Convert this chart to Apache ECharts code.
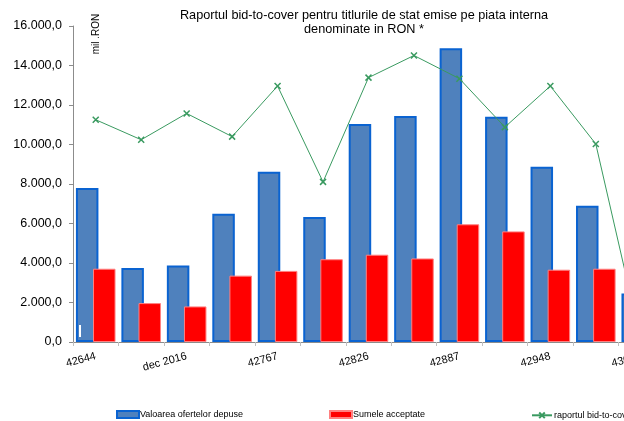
<!DOCTYPE html>
<html>
<head>
<meta charset="utf-8">
<script src="https://cdn.jsdelivr.net/npm/echarts@6/dist/echarts.min.js"></script>
<style>
  html, body { margin: 0; padding: 0; background: #fff; }
  #chart { width: 624px; height: 421px; }
</style>
</head>
<body>
<div id="chart"></div>
<script>
// luni (seriale Excel, asa cum apar pe axa)
var months = ['42644', '42675', 'dec 2016', '42736', '42767', '42795', '42826',
  '42856', '42887', '42917', '42948', '42979', '43009']
// mil. RON
var oferte = [7800, 3750, 3870, 6500, 8620, 6330, 11040, 11440, 14870, 11400, 8870, 6900, 2460]
var acceptate = [3710, 1970, 1800, 3360, 3600, 4190, 4420, 4230, 5960, 5600, 3660, 3710, null]
// raport bid-to-cover (axa secundara, ascunsa)
var bidToCover = [2.11, 1.92, 2.17, 1.95, 2.43, 1.52, 2.51, 2.72, 2.50, 2.04, 2.43, 1.88, 0]

var yTicksMax = 16000

function fmtRon(v) {
  return String(v).replace(/\B(?=(\d{3})+(?!\d))/g, '.') + ',0'
}

var myChart = echarts.init(document.getElementById('chart'))
var font = 'Arial, "Liberation Sans", sans-serif'

myChart.setOption({
  animation: false,
  textStyle: { fontFamily: font },
  title: {
    text: 'Raportul bid-to-cover pentru titlurile de stat emise pe piata interna\ndenominate in RON *',
    left: 359,
    top: 4,
    textAlign: 'center',
    textStyle: { fontSize: 12.7, fontWeight: 'normal', color: '#000', lineHeight: 13.5, fontFamily: font }
  },
  graphic: [
    {
      type: 'text',
      x: 96,
      y: 34,
      rotation: Math.PI / 2,
      style: { text: 'mil .RON', font: '10px Arial, "Liberation Sans", sans-serif', fill: '#000', textAlign: 'center', textVerticalAlign: 'middle' }
    },
    {
      type: 'rect',
      shape: { x: 79, y: 325, width: 2, height: 12 },
      style: { fill: '#fff' },
      z: 10
    }
  ],
  legend: [
    {
      data: ['Valoarea ofertelor depuse'],
      left: 111, top: 405, itemWidth: 22, itemHeight: 7, itemGap: 0,
      icon: 'rect',
      textStyle: { fontSize: 9, color: '#000', padding: [0, 0, 0, -4] }
    },
    {
      data: ['Sumele acceptate'],
      left: 324, top: 405, itemWidth: 22, itemHeight: 7, itemGap: 0,
      icon: 'rect',
      textStyle: { fontSize: 9, color: '#000', padding: [0, 0, 0, -4] }
    },
    {
      data: ['raportul bid-to-cover'],
      left: 526, top: 405, itemWidth: 20, itemHeight: 7, itemGap: 0,
      textStyle: { fontSize: 9, color: '#000', padding: [0, 0, 0, -3] }
    }
  ],
  grid: { left: 73, top: 26, width: 591, height: 316, containLabel: false, outerBoundsMode: 'none' },
  xAxis: {
    type: 'category',
    data: months,
    axisLine: { lineStyle: { color: '#8c8c8c', width: 1 } },
    axisTick: { show: true, interval: 0, length: 4, lineStyle: { color: '#c0c0c0' } },
    axisLabel: { interval: 1, rotate: 15, fontSize: 11, color: '#000', margin: 14 },
    splitLine: { show: false }
  },
  yAxis: [
    {
      type: 'value',
      min: 0,
      max: yTicksMax,
      interval: 2000,
      axisLine: { show: true, lineStyle: { color: '#8c8c8c' } },
      axisTick: { show: true, length: 4, lineStyle: { color: '#8c8c8c' } },
      axisLabel: { formatter: fmtRon, fontSize: 12.5, color: '#000', margin: 11 },
      splitLine: { show: false }
    },
    {
      type: 'value',
      min: 0,
      max: 3,
      show: false,
      splitLine: { show: false }
    }
  ],
  series: [
    {
      name: 'Valoarea ofertelor depuse',
      type: 'bar',
      data: oferte,
      barWidth: 22.5,
      barGap: '-24%',
      itemStyle: { color: '#4f81bd', borderColor: '#0a63d1', borderWidth: 2 }
    },
    {
      name: 'Sumele acceptate',
      type: 'bar',
      data: acceptate,
      barWidth: 22.5,
      itemStyle: { color: '#ff0000', borderColor: '#ff8080', borderWidth: 1 }
    },
    {
      name: 'raportul bid-to-cover',
      type: 'line',
      yAxisIndex: 1,
      data: bidToCover,
      symbol: 'path://M0,0L10,10M10,0L0,10',
      symbolSize: 6,
      lineStyle: { color: '#3a9a60', width: 1 },
      itemStyle: { color: 'none', borderColor: '#3a9a60', borderWidth: 1.5 },
      z: 5
    }
  ]
})
</script>
</body>
</html>
